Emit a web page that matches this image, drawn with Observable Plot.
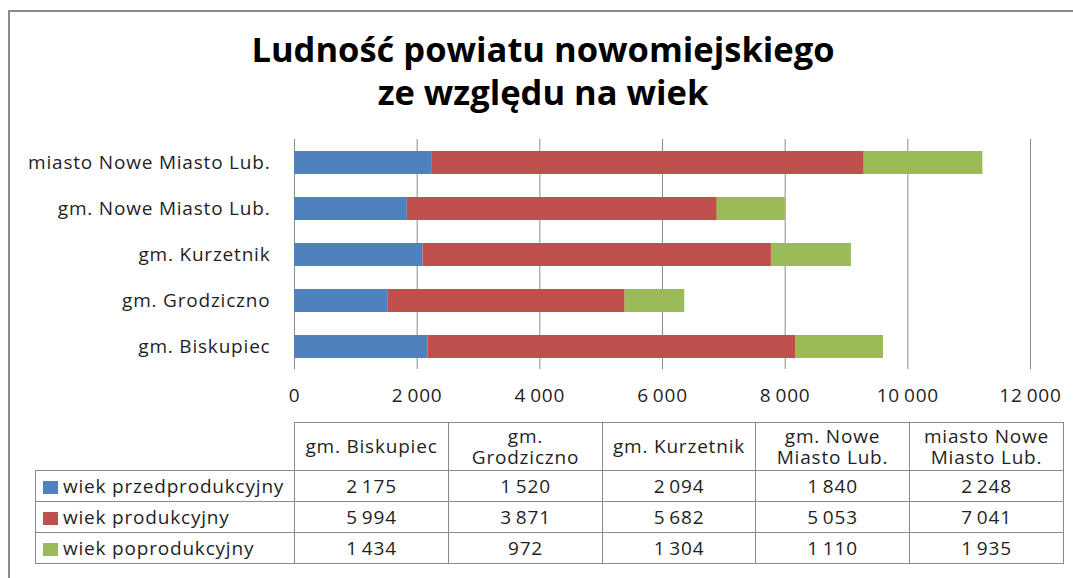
<!DOCTYPE html>
<html>
<head>
<meta charset="utf-8">
<script src="https://cdn.jsdelivr.net/npm/d3@7"></script>
<script src="https://cdn.jsdelivr.net/npm/@observablehq/plot@0.6"></script>
<style>
  html, body { margin: 0; padding: 0; background: #fff; width: 1073px; height: 578px; overflow: hidden; position: relative; }
  #frame { position: absolute; left: 8px; top: 10px; width: 1100px; height: 600px; border-top: 2px solid #8a8a8a; border-left: 2px solid #8a8a8a; box-sizing: border-box; }
  #title { position: absolute; left: 8px; width: 1070px; top: 27px; text-align: center; font-family: "Open Sans", sans-serif; font-weight: bold; font-size: 34.5px; line-height: 43px; color: #000; }
  #chart { position: absolute; left: 0; top: 130px; }
  #tbl { position: absolute; left: 35px; top: 422px; border-collapse: collapse; font-family: "Open Sans", sans-serif; font-size: 19px; letter-spacing: 0.8px; color: #1f1f1f; table-layout: fixed; }
  #tbl td { border: 1px solid #8a8a8a; padding: 0; text-align: center; height: 30px; line-height: 21px; }
  #tbl tr.head td { height: 47px; white-space: pre-line; }
  #tbl td.blank { border: none; }
  #tbl td.leg { text-align: left; padding-left: 7px; white-space: nowrap; }
  .sw { display: inline-block; width: 15px; height: 13px; margin-right: 5px; vertical-align: -1px; }
</style>
</head>
<body>
<div id="frame"></div>
<div id="title">Ludność powiatu nowomiejskiego<br>ze względu na wiek</div>
<div id="chart"></div>
<table id="tbl"></table>
<script>
const categories = ["gm. Biskupiec", "gm. Grodziczno", "gm. Kurzetnik", "gm. Nowe Miasto Lub.", "miasto Nowe Miasto Lub."];
const tableHeaders = ["gm. Biskupiec", "gm.\nGrodziczno", "gm. Kurzetnik", "gm. Nowe\nMiasto Lub.", "miasto Nowe\nMiasto Lub."];
const series = ["wiek przedprodukcyjny", "wiek produkcyjny", "wiek poprodukcyjny"];
const przedprodukcyjny = [2175, 1520, 2094, 1840, 2248];
const produkcyjny = [5994, 3871, 5682, 5053, 7041];
const poprodukcyjny = [1434, 972, 1304, 1110, 1935];
const colors = ["#4F81BD", "#C0504D", "#9BBB59"];
const xTicks = [0, 2000, 4000, 6000, 8000, 10000, 12000];

const values = [przedprodukcyjny, produkcyjny, poprodukcyjny];
const fmt = v => String(v).replace(/\B(?=(\d{3})+(?!\d))/g, "\u2009");

const long = [];
series.forEach((s, i) => categories.forEach((c, j) => long.push({series: s, category: c, value: values[i][j]})));

const chart = Plot.plot({
  width: 1073,
  height: 280,
  marginLeft: 294,
  marginRight: 43,
  marginTop: 9,
  marginBottom: 41,
  style: {fontFamily: "Open Sans, sans-serif", fontSize: "19px", letterSpacing: "0.8px", color: "#1f1f1f", background: "transparent"},
  x: {domain: [0, 12000], label: null},
  y: {domain: categories.slice().reverse(), paddingInner: 0.5, paddingOuter: 0.25, label: null},
  color: {domain: series, range: colors},
  marks: [
    Plot.ruleX(xTicks, {stroke: "#8c8c8c", strokeWidth: 1}),
    Plot.barX(long, Plot.stackX({x: "value", y: "category", fill: "series", order: series})),
    Plot.axisX({ticks: xTicks, tickFormat: fmt, tickSize: 0, tickPadding: 19, fontSize: 19, label: null}),
    Plot.axisY({tickSize: 0, tickPadding: 24, fontSize: 19, label: null})
  ]
});
document.getElementById("chart").appendChild(chart);

// data table
const tbl = document.getElementById("tbl");
const cg = document.createElement("colgroup");
[259, 154, 154, 153, 154, 154].forEach(w => { const c = document.createElement("col"); c.style.width = w + "px"; cg.appendChild(c); });
tbl.appendChild(cg);
const hr = document.createElement("tr");
hr.className = "head";
const blank = document.createElement("td"); blank.className = "blank"; hr.appendChild(blank);
tableHeaders.forEach(h => { const td = document.createElement("td"); td.textContent = h; hr.appendChild(td); });
tbl.appendChild(hr);
series.forEach((s, i) => {
  const tr = document.createElement("tr");
  const lt = document.createElement("td"); lt.className = "leg";
  const sw = document.createElement("span"); sw.className = "sw"; sw.style.background = colors[i];
  lt.appendChild(sw); lt.appendChild(document.createTextNode(s));
  tr.appendChild(lt);
  values[i].forEach(v => { const td = document.createElement("td"); td.textContent = fmt(v); tr.appendChild(td); });
  tbl.appendChild(tr);
});
</script>
</body>
</html>
